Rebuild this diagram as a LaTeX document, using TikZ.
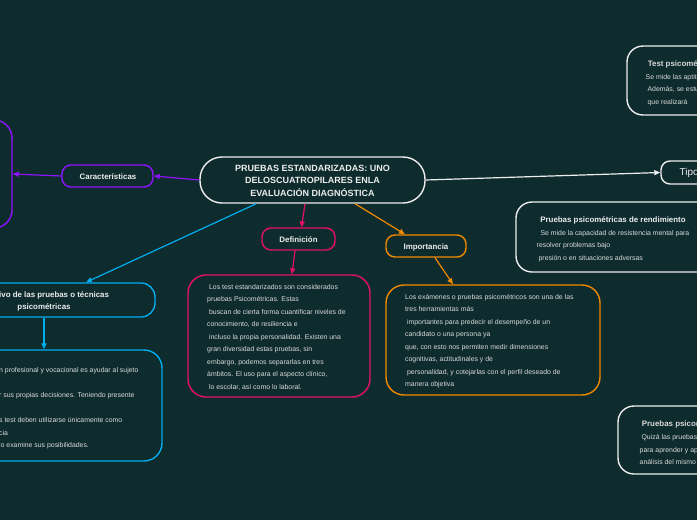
\documentclass[tikz,border=0pt]{standalone}
\usepackage{fontspec}
\setmainfont{Liberation Sans}
\usetikzlibrary{arrows.meta,calc}
\definecolor{bg}{HTML}{0E2B2E}
\definecolor{cpurple}{HTML}{9013FE}
\definecolor{cpink}{HTML}{E3106A}
\definecolor{cblue}{HTML}{00AEEF}
\definecolor{corange}{HTML}{F08A00}
\definecolor{cwhite}{HTML}{EDEDED}
\definecolor{ctext}{HTML}{DADADA}
\tikzset{
  box/.style={draw, line width=1.4pt, rounded corners=#1, inner sep=0pt},
  box/.default=9pt,
  conn/.style={line width=1.2pt, -{Triangle[length=6pt,width=5pt]}},
  ttl/.style={font=\fontsize{7.9}{12}\selectfont\bfseries, text=cwhite, align=center, inner sep=0pt},
  body/.style={font=\fontsize{6.9}{12.5}\selectfont, text=ctext, align=left, inner sep=0pt, anchor=north west},
}
\begin{document}
\begin{tikzpicture}[x=1pt,y=-1pt]
\useasboundingbox (0,0) rectangle (697,520);
\fill[bg] (0,0) rectangle (697,520);
\clip (0,0) rectangle (697,520);

% central
\node[box=22pt, draw=cwhite, minimum width=225pt, minimum height=46pt] (c) at (312.5,180) {};
\node[font=\fontsize{9}{12.5}\selectfont\bfseries, text=cwhite, align=center, inner sep=0pt] (ct) at (312.5,180.5)
  {PRUEBAS ESTANDARIZADAS: UNO\\DELOSCUATROPILARES ENLA\\EVALUACIÓN DIAGNÓSTICA};

% caracteristicas
\node[box, draw=cpurple, minimum width=91pt, minimum height=22pt] (car) at (107.5,176) {};
\node[ttl] (cart) at (108,177) {Características};
\node[box=18pt, draw=cpurple, minimum width=62pt, minimum height=108pt] (lb) at (-19,174) {};

% objetivo
\node[box=14pt, draw=cblue, minimum width=222pt, minimum height=34pt] (obj) at (44,300) {};
\node[ttl] (objt) at (44,301.5) {Objetivo de las pruebas o técnicas\\psicométricas};
\node[box=18pt, draw=cblue, minimum width=262pt, minimum height=111pt] (bb) at (31,405.5) {};
\node[body] (b1) at (-1,367) {n profesional y vocacional es ayudar al sujeto};
\node[body] (b2) at (-1,392) {r sus propias decisiones. Teniendo presente};
\node[body] (b3) at (-1,417) {s test deben utilizarse únicamente como};
\node[body] (b4) at (-1,430) {cia};
\node[body] (b5) at (0.5,442.5) {o examine sus posibilidades.};

% definicion
\node[box, draw=cpink, minimum width=73pt, minimum height=22pt] (defn) at (298.5,239) {};
\node[ttl] (defnt) at (298.5,240) {Definición};
\node[box=18pt, draw=cpink, minimum width=182pt, minimum height=122pt] (db) at (279,336) {};
\node[body] (dt) at (207,284) {\ Los test estandarizados son considerados\\
pruebas Psicométricas. Estas\\
\ buscan de cierta forma cuantificar niveles de\\
conocimiento, de resiliencia e\\
\ incluso la propia personalidad. Existen una\\
gran diversidad estas pruebas, sin\\
embargo, podemos separarlas en tres\\
ámbitos. El uso para el aspecto clínico,\\
\ lo escolar, así como lo laboral.};

% importancia
\node[box, draw=corange, minimum width=80pt, minimum height=22pt] (imp) at (426,246) {};
\node[ttl] (impt) at (426,247) {Importancia};
\node[box=18pt, draw=corange, minimum width=214pt, minimum height=110pt] (ib) at (493,340) {};
\node[body] (it) at (405,294) {Los exámenes o pruebas psicométricos son una de las\\
tres herramientas más\\
\ importantes para predecir el desempeño de un\\
candidato o una persona ya\\
que, con esto nos permiten medir dimensiones\\
cognitivas, actitudinales y de\\
\ personalidad, y cotejarlas con el perfil deseado de\\
manera objetiva};

% tipos
\node[box, draw=cwhite, minimum width=100pt, minimum height=23pt] (tip) at (711,172.5) {};
\node[font=\fontsize{10}{10}\selectfont, text=cwhite, anchor=west, inner sep=0pt] (tipt) at (679.5,173) {Tipos};

\node[box=16pt, draw=cwhite, minimum width=140pt, minimum height=69pt] (tr) at (697,80.5) {};
\node[body] (trt) at (645.5,61) {{\fontsize{7.9}{12.5}\selectfont\bfseries\ Test psicométricos}\\
Se mide las aptitudes\\
\ Además, se estudia\\
\ que realizará};

\node[box=16pt, draw=cwhite, minimum width=250pt, minimum height=70pt] (mr) at (641,237) {};
\node[ttl] (mrt) at (613,220) {Pruebas psicométricas de rendimiento};
\node[body] (mrb) at (536.5,230) {\ \ Se mide la capacidad de resistencia mental para\\
resolver problemas bajo\\
\ presión o en situaciones adversas};

\node[box=16pt, draw=cwhite, minimum width=150pt, minimum height=68pt] (br) at (693,440) {};
\node[body] (brt) at (639.5,421) {{\fontsize{7.9}{12.5}\selectfont\bfseries\ Pruebas psicométricas}\\
\ Quizá las pruebas\\
para aprender y aplicar\\
análisis del mismo};

% connectors
\draw[conn, cpurple] (c.west) -- (car.east);
\draw[conn, cpurple] (car.west) -- (lb.east);
\draw[conn, cblue] ($(c.south west)+(57,0)$) -- ($(obj.north)+(42,0)$);
\draw[conn, cblue] (obj.south) -- ($(bb.north)+(13,0)$);
\draw[conn, cpink] ($(c.south)+(-7.5,0)$) -- ($(defn.north)+(3,0)$);
\draw[conn, cpink] ($(defn.south)+(-3.5,0)$) -- ($(db.north)+(13,0)$);
\draw[conn, corange] ($(c.south)+(42.5,0)$) -- ($(imp.north)+(-21,0)$);
\draw[conn, corange] ($(imp.south)+(9,0)$) -- ($(ib.north)+(-40,0)$);
\draw[conn, cwhite] (c.east) -- (tip.west);
\end{tikzpicture}
\end{document}
